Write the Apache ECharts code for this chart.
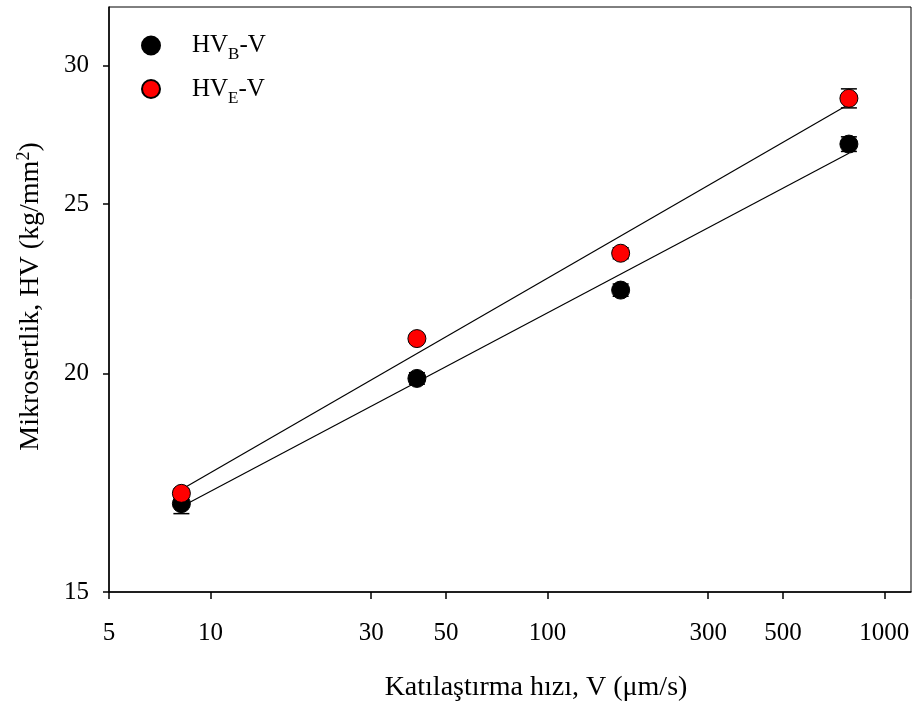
<!DOCTYPE html>
<html>
<head>
<meta charset="utf-8">
<script src="https://cdn.jsdelivr.net/npm/echarts@6/dist/echarts.min.js"></script>
<style>
  html, body { margin: 0; padding: 0; background: #fff; }
  #chart { width: 917px; height: 702px; }
</style>
</head>
<body>
<div id="chart"></div>
<script>
// Solidification velocity (µm/s)
const velocity = [8.2, 41, 165, 785];
// Microhardness, HV_B series and its error
const hvB = [16.85, 19.87, 22.32, 27.05];
const hvBErr = [0.22, 0.15, 0.18, 0.26];
// Microhardness, HV_E series and its error
const hvE = [17.08, 20.94, 23.43, 28.73];
const hvEErr = [0.1, 0.1, 0.17, 0.36];
// Axis tick values
const xTicks = [5, 10, 30, 50, 100, 300, 500, 1000];
const yTicks = [15, 20, 25, 30];

const FONT = '"Liberation Serif", "Times New Roman", serif';

// Least-squares power-law fit (straight line in log-log), drawn across the data range
function powerFit(xs, ys) {
  const lx = xs.map(Math.log10), ly = ys.map(Math.log10);
  const n = lx.length;
  const mx = lx.reduce((a, b) => a + b, 0) / n;
  const my = ly.reduce((a, b) => a + b, 0) / n;
  let sxy = 0, sxx = 0;
  for (let i = 0; i < n; i++) { sxy += (lx[i] - mx) * (ly[i] - my); sxx += (lx[i] - mx) ** 2; }
  const b = sxy / sxx, a = my - b * mx;
  const x0 = Math.min(...xs), x1 = Math.max(...xs);
  return [x0, x1].map(x => [x, Math.pow(10, a + b * Math.log10(x))]);
}

function errorSeries(ys, errs, z) {
  return {
    type: 'custom',
    z: z,
    silent: true,
    data: velocity.map((x, i) => [x, ys[i] - errs[i], ys[i] + errs[i]]),
    renderItem: function (params, api) {
      const lo = api.coord([api.value(0), api.value(1)]);
      const hi = api.coord([api.value(0), api.value(2)]);
      const w = 8;
      const st = { stroke: '#000', lineWidth: 1.5 };
      return {
        type: 'group',
        children: [
          { type: 'line', shape: { x1: lo[0], y1: lo[1], x2: hi[0], y2: hi[1] }, style: st },
          { type: 'line', shape: { x1: lo[0] - w, y1: lo[1], x2: lo[0] + w, y2: lo[1] }, style: st },
          { type: 'line', shape: { x1: hi[0] - w, y1: hi[1], x2: hi[0] + w, y2: hi[1] }, style: st }
        ]
      };
    }
  };
}

const chart = echarts.init(document.getElementById('chart'), null, { renderer: 'canvas' });

const legendRich = {
  n: { fontFamily: FONT, fontSize: 25, color: '#000', lineHeight: 36 },
  s: { fontFamily: FONT, fontSize: 17, color: '#000', lineHeight: 16, verticalAlign: 'bottom' }
};

chart.setOption({
  animation: false,
  backgroundColor: '#fff',
  grid: {
    left: 109, right: 6, top: 7, bottom: 110,
    show: true, borderColor: '#000', borderWidth: 1,
    containLabel: false, outerBoundsMode: 'none'
  },
  legend: {
    orient: 'vertical',
    left: 136, top: 28,
    itemWidth: 18, itemHeight: 18, itemGap: 13,
    data: ['HVB-V', 'HVE-V'],
    formatter: function (name) {
      return name === 'HVB-V' ? '{n|HV}{s|B}{n|-V}' : '{n|HV}{s|E}{n|-V}';
    },
    textStyle: {
      fontFamily: FONT, fontSize: 25, color: '#000', padding: [0, 0, 0, 27],
      rich: legendRich
    }
  },
  xAxis: {
    type: 'log', logBase: 10, min: 5, max: 1200,
    name: 'Katılaştırma hızı, V (μm/s)',
    nameLocation: 'middle', nameGap: 82,
    nameTextStyle: { fontFamily: FONT, fontSize: 28, color: '#000', padding: [0, 0, 0, 52] },
    axisLine: { show: true, lineStyle: { color: '#000', width: 1.5 } },
    axisTick: { show: true, inside: false, length: 7, lineStyle: { color: '#000', width: 1.5 }, customValues: xTicks },
    axisLabel: {
      fontFamily: FONT, fontSize: 25, color: '#000', margin: 29, customValues: xTicks,
      formatter: v => String(v)
    },
    minorTick: { show: false },
    splitLine: { show: false }
  },
  yAxis: {
    type: 'log', logBase: 10, min: 15, max: 32.4,
    name: '{a|Mikrosertlik, HV (kg/mm}{p|2}{a|)}',
    nameLocation: 'middle', nameGap: 62, nameRotate: 90,
    nameTextStyle: {
      fontFamily: FONT, fontSize: 28, color: '#000', padding: [0, 0, 0, 6],
      rich: {
        a: { fontFamily: FONT, fontSize: 28, color: '#000', lineHeight: 32 },
        p: { fontFamily: FONT, fontSize: 18, color: '#000', lineHeight: 18, verticalAlign: 'top' }
      }
    },
    axisLine: { show: true, lineStyle: { color: '#000', width: 1.5 } },
    axisTick: { show: true, inside: false, length: 6, lineStyle: { color: '#000', width: 1.5 }, customValues: yTicks },
    axisLabel: {
      fontFamily: FONT, fontSize: 25, color: '#000', margin: 20, customValues: yTicks,
      formatter: v => String(v)
    },
    minorTick: { show: false },
    splitLine: { show: false }
  },
  series: [
    {
      name: 'fitB', type: 'line', z: 2, symbol: 'none', silent: true,
      data: powerFit(velocity, hvB),
      lineStyle: { color: '#000', width: 1.2 }
    },
    {
      name: 'fitE', type: 'line', z: 2, symbol: 'none', silent: true,
      data: powerFit(velocity, hvE),
      lineStyle: { color: '#000', width: 1.2 }
    },
    errorSeries(hvB, hvBErr, 3),
    errorSeries(hvE, hvEErr, 3),
    {
      name: 'HVB-V', type: 'scatter', z: 5,
      symbol: 'circle', symbolSize: 18,
      data: velocity.map((x, i) => [x, hvB[i]]),
      itemStyle: { color: '#000', borderColor: '#000', borderWidth: 1, opacity: 1 }
    },
    {
      name: 'HVE-V', type: 'scatter', z: 6,
      symbol: 'circle', symbolSize: 18,
      data: velocity.map((x, i) => [x, hvE[i]]),
      itemStyle: { color: '#ff0000', borderColor: '#000', borderWidth: 1, opacity: 1 }
    }
  ]
});
</script>
</body>
</html>
